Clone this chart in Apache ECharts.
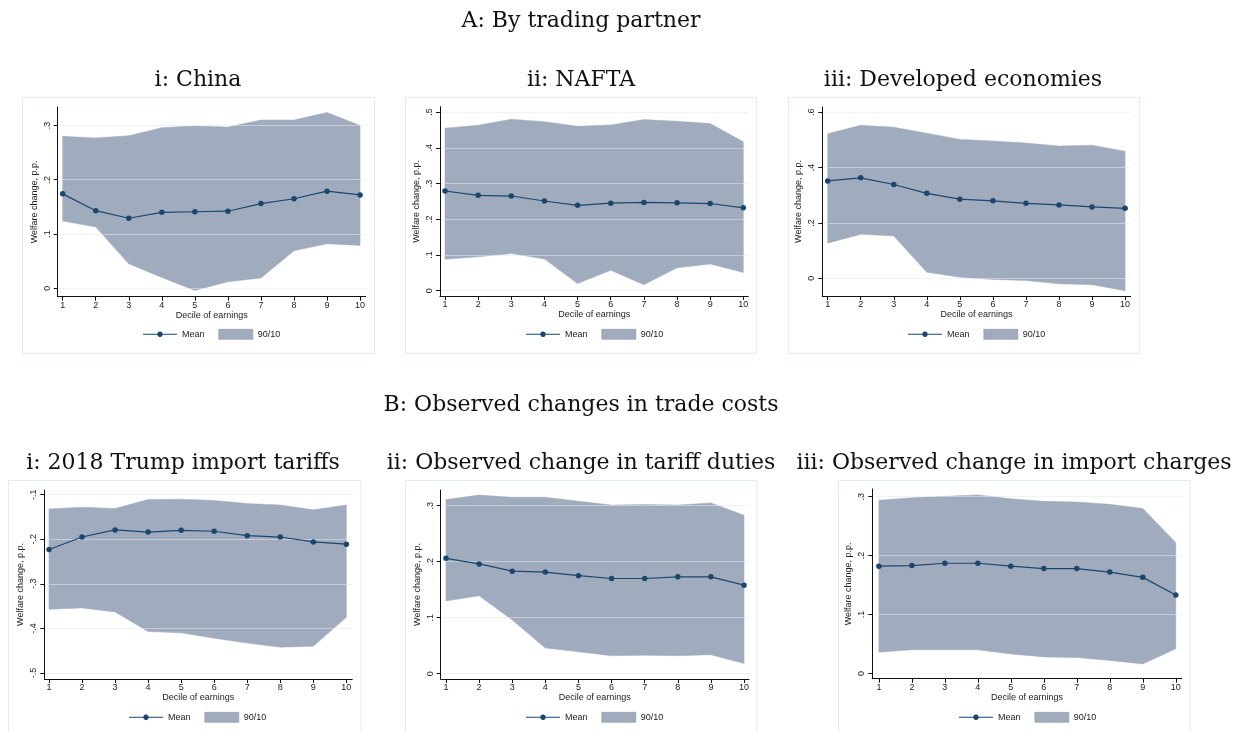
<!DOCTYPE html>
<html>
<head>
<meta charset="utf-8">
<script src="https://cdn.jsdelivr.net/npm/echarts@6/dist/echarts.min.js"></script>
<style>html,body{margin:0;padding:0;background:#fff;}#c{width:1240px;height:732px;}</style>
</head>
<body>
<div id="c"></div>
<script>
// ---- data ----
const deciles = [1, 2, 3, 4, 5, 6, 7, 8, 9, 10];

const chinaMean = [0.174, 0.143, 0.129, 0.140, 0.141, 0.142, 0.156, 0.165, 0.179, 0.172];
const chinaHi   = [0.280, 0.277, 0.281, 0.296, 0.299, 0.297, 0.310, 0.310, 0.324, 0.300];
const chinaLo   = [0.124, 0.113, 0.045, 0.020, -0.004, 0.012, 0.019, 0.069, 0.082, 0.079];
const chinaTicks = [0, 0.1, 0.2, 0.3];

const naftaMean = [0.279, 0.267, 0.265, 0.251, 0.239, 0.245, 0.247, 0.246, 0.244, 0.232];
const naftaHi   = [0.455, 0.463, 0.480, 0.473, 0.460, 0.464, 0.479, 0.474, 0.468, 0.417];
const naftaLo   = [0.088, 0.095, 0.104, 0.089, 0.020, 0.057, 0.017, 0.064, 0.075, 0.051];
const naftaTicks = [0, 0.1, 0.2, 0.3, 0.4, 0.5];

const devMean = [0.352, 0.363, 0.339, 0.307, 0.286, 0.280, 0.271, 0.265, 0.258, 0.253];
const devHi   = [0.522, 0.553, 0.546, 0.524, 0.502, 0.496, 0.489, 0.478, 0.481, 0.459];
const devLo   = [0.127, 0.159, 0.153, 0.022, 0.004, -0.004, -0.008, -0.020, -0.023, -0.045];
const devTicks = [0, 0.2, 0.4, 0.6];

const trumpMean = [-0.223, -0.195, -0.179, -0.184, -0.180, -0.182, -0.192, -0.195, -0.206, -0.211];
const trumpHi   = [-0.132, -0.128, -0.131, -0.111, -0.110, -0.113, -0.120, -0.123, -0.134, -0.123];
const trumpLo   = [-0.357, -0.354, -0.363, -0.407, -0.410, -0.422, -0.433, -0.442, -0.440, -0.375];
const trumpTicks = [-0.5, -0.4, -0.3, -0.2, -0.1];

const dutyMean = [0.206, 0.196, 0.183, 0.1815, 0.175, 0.170, 0.170, 0.173, 0.173, 0.158];
const dutyHi   = [0.311, 0.319, 0.315, 0.315, 0.308, 0.301, 0.302, 0.301, 0.305, 0.283];
const dutyLo   = [0.130, 0.139, 0.096, 0.046, 0.039, 0.032, 0.033, 0.032, 0.034, 0.018];
const dutyTicks = [0, 0.1, 0.2, 0.3];

const chargeMean = [0.182, 0.183, 0.187, 0.187, 0.182, 0.178, 0.178, 0.172, 0.163, 0.133];
const chargeHi   = [0.294, 0.298, 0.3005, 0.303, 0.2965, 0.292, 0.291, 0.287, 0.280, 0.222];
const chargeLo   = [0.036, 0.040, 0.040, 0.040, 0.033, 0.028, 0.027, 0.022, 0.016, 0.042];
const chargeTicks = [0, 0.1, 0.2, 0.3];

const mainTitles = ['A: By trading partner', 'B: Observed changes in trade costs'];
const panelTitles = ['i: China', 'ii: NAFTA', 'iii: Developed economies',
  'i: 2018 Trump import tariffs', 'ii: Observed change in tariff duties', 'iii: Observed change in import charges'];
const yTitle = 'Welfare change, p.p.';
const xTitle = 'Decile of earnings';
const meanName = 'Mean';
const bandName = '90/10';

// ---- layout (positions only) ----
const panels = [
  {mean: chinaMean, hi: chinaHi, lo: chinaLo, ticks: chinaTicks, grid: {left: 57.7, top: 107, width: 308, height: 189.7}, y: [-0.0155, 0.334], x: [0.849, 10.17], box: [22.5, 97.5, 352, 256], title: [198, 80], legend: [143, 329]},
  {mean: naftaMean, hi: naftaHi, lo: naftaLo, ticks: naftaTicks, grid: {left: 440, top: 106.7, width: 308.3, height: 189.3}, y: [-0.0148, 0.515], x: [0.849, 10.15], box: [405.5, 97.5, 351, 256], title: [581, 80], legend: [526, 329]},
  {mean: devMean, hi: devHi, lo: devLo, ticks: devTicks, grid: {left: 822.3, top: 107, width: 308.4, height: 189}, y: [-0.064, 0.619], x: [0.837, 10.17], box: [788.5, 97.5, 351, 256], title: [963, 80], legend: [908, 329]},
  {mean: trumpMean, hi: trumpHi, lo: trumpLo, ticks: trumpTicks, grid: {left: 44.3, top: 490, width: 308, height: 189}, y: [-0.5135, -0.0895], x: [0.858, 10.18], box: [8.5, 480.5, 352.5, 270], title: [183, 463], legend: [129, 712]},
  {mean: dutyMean, hi: dutyHi, lo: dutyLo, ticks: dutyTicks, grid: {left: 440.7, top: 490, width: 308.3, height: 189}, y: [-0.0095, 0.328], x: [0.84, 10.15], box: [405.5, 480.5, 351.5, 270], title: [581, 463], legend: [526, 712]},
  {mean: chargeMean, hi: chargeHi, lo: chargeLo, ticks: chargeTicks, grid: {left: 872.3, top: 489, width: 309.4, height: 189.7}, y: [-0.009, 0.313], x: [0.8, 10.18], box: [838.5, 480.5, 351.5, 270], title: [1014, 463], legend: [959, 712]}
];

const NAVY = '#1a476f';
const BAND = '#a1abbe';
const SANS = '"Liberation Sans", Arial, sans-serif';
const SERIF = '"DejaVu Serif", serif';
// legend icon: line with a circle marker (34 x 10 box)
const MEAN_ICON = 'path://M0,0L0.01,0L0,0.01Z M0,10L0.01,10L0,9.99Z M0,4.45L14.3,4.45A2.75,2.75 0 0 1 19.7,4.45L34,4.45L34,5.55L19.7,5.55A2.75,2.75 0 0 1 14.3,5.55L0,5.55Z';

function fmt(v) {
  const s = String(Math.round(v * 10) / 10);
  return s.replace(/^(-?)0\./, '$1.');
}

const grids = [], xAxes = [], yAxes = [], series = [], legends = [], graphics = [];

graphics.push({type: 'text', x: 581, y: 21, style: {text: mainTitles[0], font: '22px ' + SERIF, fill: '#111', textAlign: 'center', textVerticalAlign: 'middle'}});
graphics.push({type: 'text', x: 581, y: 405, style: {text: mainTitles[1], font: '22px ' + SERIF, fill: '#111', textAlign: 'center', textVerticalAlign: 'middle'}});

panels.forEach((p, i) => {
  graphics.push({type: 'rect', shape: {x: p.box[0], y: p.box[1], width: p.box[2], height: p.box[3]}, style: {fill: '#fff', stroke: '#e3ebec', lineWidth: 1}, z: -10});
  graphics.push({type: 'text', x: p.title[0], y: p.title[1], style: {text: panelTitles[i], font: '22px ' + SERIF, fill: '#111', textAlign: 'center', textVerticalAlign: 'middle'}});

  grids.push(Object.assign({containLabel: false}, p.grid));
  xAxes.push({
    type: 'value', gridIndex: i, min: p.x[0], max: p.x[1],
    name: xTitle, nameLocation: 'middle', nameGap: 14,
    nameTextStyle: {fontFamily: SANS, fontSize: 9, color: '#222'},
    axisLine: {show: true, onZero: false, lineStyle: {color: '#111', width: 1}},
    axisTick: {show: true, length: 4, lineStyle: {color: '#111'}, customValues: deciles},
    axisLabel: {fontFamily: SANS, fontSize: 9, color: '#222', margin: 4, customValues: deciles, formatter: v => String(v)},
    splitLine: {show: false}
  });
  yAxes.push({
    type: 'value', gridIndex: i, min: p.y[0], max: p.y[1], z: 3,
    name: yTitle, nameLocation: 'middle', nameGap: 19, nameRotate: 90,
    nameTextStyle: {fontFamily: SANS, fontSize: 9, color: '#222'},
    axisLine: {show: true, onZero: false, lineStyle: {color: '#111', width: 1}},
    axisTick: {show: true, length: 4, lineStyle: {color: '#111'}, customValues: p.ticks},
    axisLabel: {fontFamily: SANS, fontSize: 9, color: '#222', rotate: 90, margin: 6, customValues: p.ticks, formatter: fmt},
    splitLine: {show: true, lineStyle: {color: 'rgba(222,234,238,0.55)', width: 1}}
  });
  const hi = p.hi, lo = p.lo;
  series.push({
    type: 'custom', name: bandName, xAxisIndex: i, yAxisIndex: i, silent: true, z: 1,
    itemStyle: {color: BAND},
    data: deciles.map((d, k) => [d, lo[k], hi[k]]),
    encode: {x: 0, y: [1, 2]},
    renderItem: function (params, api) {
      if (params.dataIndex !== 0) return null;
      const upper = deciles.map((d, k) => api.coord([d, hi[k]]));
      const lower = deciles.map((d, k) => api.coord([d, lo[k]])).reverse();
      return {type: 'polygon', shape: {points: upper.concat(lower)}, style: {fill: BAND, stroke: BAND, lineWidth: 0.5}};
    }
  });
  series.push({
    type: 'line', name: meanName, xAxisIndex: i, yAxisIndex: i,
    data: deciles.map((d, k) => [d, p.mean[k]]),
    symbol: 'circle', symbolSize: 5.5, itemStyle: {color: NAVY},
    lineStyle: {color: NAVY, width: 1.2}, z: 5
  });
  legends.push({
    left: p.legend[0], top: p.legend[1], orient: 'horizontal', padding: 0,
    itemWidth: 34, itemHeight: 10, itemGap: 14,
    textStyle: {fontFamily: SANS, fontSize: 9, color: '#222'},
    selectedMode: false, symbolKeepAspect: false,
    data: [
      {name: meanName, icon: MEAN_ICON, itemStyle: {color: NAVY, borderWidth: 0}},
      {name: bandName, icon: 'rect', itemStyle: {color: BAND, borderColor: '#8c96aa', borderWidth: 0.6}}
    ]
  });
});

const chart = echarts.init(document.getElementById('c'));
chart.setOption({
  animation: false,
  backgroundColor: '#fff',
  grid: grids,
  xAxis: xAxes,
  yAxis: yAxes,
  legend: legends,
  series: series,
  graphic: graphics
});
</script>
</body>
</html>
